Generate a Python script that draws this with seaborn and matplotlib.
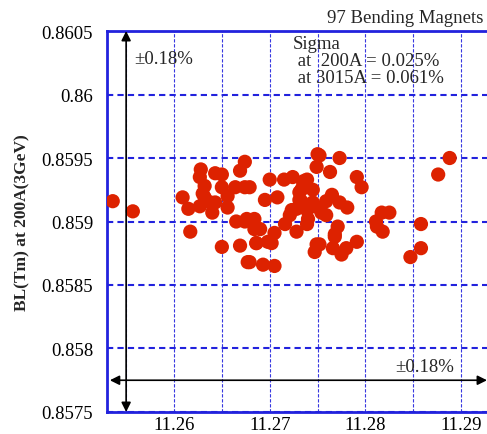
import numpy as np
import pandas as pd
import seaborn as sns
import matplotlib
import matplotlib.pyplot as plt
from matplotlib.ticker import MultipleLocator

matplotlib.use('Agg')

# BL values of the 97 bending magnets
current_ratio = [
    11.2536, 11.2557, 11.2628, 11.2627, 11.2632, 11.2650, 11.2650, 11.2664, 11.2674, 11.2669,
    11.2674, 11.2609, 11.2615, 11.2627, 11.2632, 11.2638, 11.2643, 11.2640, 11.2656, 11.2665,
    11.2674, 11.2617, 11.2650, 11.2669, 11.2677, 11.2700, 11.2715, 11.2724, 11.2739, 11.2679,
    11.2695, 11.2708, 11.2733, 11.2731, 11.2723, 11.2739, 11.2747, 11.2750, 11.2749, 11.2676,
    11.2684, 11.2690, 11.2716, 11.2728, 11.2739, 11.2705, 11.2702, 11.2686, 11.2679, 11.2693,
    11.2705, 11.2749, 11.2747, 11.2773, 11.2763, 11.2791, 11.2796, 11.2765, 11.2759, 11.2773,
    11.2781, 11.2754, 11.2817, 11.2825, 11.2811, 11.2812, 11.2818, 11.2771, 11.2768, 11.2791,
    11.2780, 11.2766, 11.2775, 11.2888, 11.2876, 11.2858, 11.2858, 11.2847, 11.2745, 11.2740,
    11.2698, 11.2736, 11.2752, 11.2686, 11.2731, 11.2733, 11.2752, 11.2684, 11.2721, 11.2643,
    11.2735, 11.2728, 11.2768, 11.2656, 11.2745, 11.2759, 11.2630,
]
bl_200a = [
    0.85916, 0.85908, 0.85941, 0.85935, 0.85928, 0.85937, 0.85927, 0.85927, 0.85947, 0.85940,
    0.85927, 0.85919, 0.85910, 0.85912, 0.85919, 0.85915, 0.85915, 0.85907, 0.85911, 0.85900,
    0.85900, 0.85892, 0.85880, 0.85881, 0.85868, 0.85933, 0.85933, 0.85935, 0.85933, 0.85927,
    0.85917, 0.85919, 0.85925, 0.85917, 0.85909, 0.85909, 0.85912, 0.85953, 0.85943, 0.85902,
    0.85902, 0.85894, 0.85898, 0.85892, 0.85898, 0.85891, 0.85883, 0.85883, 0.85868, 0.85866,
    0.85865, 0.85882, 0.85876, 0.85950, 0.85939, 0.85935, 0.85927, 0.85921, 0.85916, 0.85915,
    0.85911, 0.85907, 0.85907, 0.85907, 0.85900, 0.85896, 0.85892, 0.85896, 0.85890, 0.85884,
    0.85879, 0.85879, 0.85874, 0.85950, 0.85937, 0.85898, 0.85879, 0.85872, 0.85915, 0.85902,
    0.85884, 0.85932, 0.85882, 0.85883, 0.85923, 0.85916, 0.85952, 0.85894, 0.85905, 0.85938,
    0.85930, 0.85910, 0.85888, 0.85920, 0.85925, 0.85905, 0.85922,
]
xtick_vals = [11.26, 11.27, 11.28, 11.29]
ytick_vals = [0.8575, 0.858, 0.8585, 0.859, 0.8595, 0.86, 0.8605]
ytick_labels = ['0.8575', '0.858', '0.8585', '0.859', '0.8595', '0.86', '0.8605']

df = pd.DataFrame({'x': current_ratio, 'bl': bl_200a})

sns.set_style('white')
plt.rcParams['font.family'] = ['Liberation Serif', 'DejaVu Serif']

fig = plt.figure(figsize=(4.87, 4.35), dpi=100)
ax = fig.add_axes([0.2197, 0.0506, 0.7803, 0.8758])

sns.scatterplot(data=df, x='x', y='bl', ax=ax, color='#dd2200', s=105,
                edgecolor='none', linewidth=0, zorder=3, legend=False)

ax.set_xlim(11.2530, 11.2927)
ax.set_ylim(0.8575, 0.8605)
ax.xaxis.set_minor_locator(MultipleLocator(0.005))
ax.set_yticks(ytick_vals)
ax.set_yticklabels(ytick_labels)
ax.set_xticks(xtick_vals)
ax.set_xticklabels([f'{v:.2f}' for v in xtick_vals])

# grid: thick dashes horizontally, thin dashes vertically
ax.grid(axis='y', which='major', color='#2222dd', linestyle=(0, (3, 2)), linewidth=1.5, zorder=1)
ax.grid(axis='x', which='both', color='#2222dd', linestyle=(0, (3, 1.5)), linewidth=0.8, alpha=0.9, zorder=1)

ax.tick_params(axis='both', which='both', direction='in', colors='#2222dd', labelcolor='black',
               labelsize=13.5, length=4)
ax.tick_params(axis='x', pad=3)
ax.tick_params(axis='y', pad=10)

for side in ['left', 'top', 'bottom']:
    ax.spines[side].set_color('#2222dd')
    ax.spines[side].set_linewidth(2)
ax.spines['right'].set_visible(False)

ax.set_xlabel('')
ax.set_ylabel('BL(Tm) at 200A(3GeV)', fontsize=12.5, fontweight='bold', labelpad=8)

# +-0.18% range arrows
ax.annotate('', xy=(11.2550, 0.8575), xytext=(11.2550, 0.8605),
            arrowprops=dict(arrowstyle='<|-|>', color='black', lw=1.2, mutation_scale=14,
                            shrinkA=0, shrinkB=0), zorder=4)
ax.annotate('', xy=(11.2533, 0.85775), xytext=(11.2927, 0.85775),
            arrowprops=dict(arrowstyle='<|-|>', color='black', lw=1.2, mutation_scale=14,
                            shrinkA=0, shrinkB=0), zorder=4)

ax.text(11.2558, 0.86028, '±0.18%', fontsize=13.5, va='center', ha='left')
ax.text(11.2893, 0.857856, '±0.18%', fontsize=13.5, va='center', ha='right')
ax.text(11.2724, 0.86047, 'Sigma\n at  200A = 0.025%\n at 3015A = 0.061%',
        fontsize=13.5, va='top', ha='left', linespacing=1.0)

fig.text(0.992, 0.958, '97 Bending Magnets', fontsize=13.5, ha='right', va='center')

fig.savefig('out.png', dpi=100)
plt.close(fig)
